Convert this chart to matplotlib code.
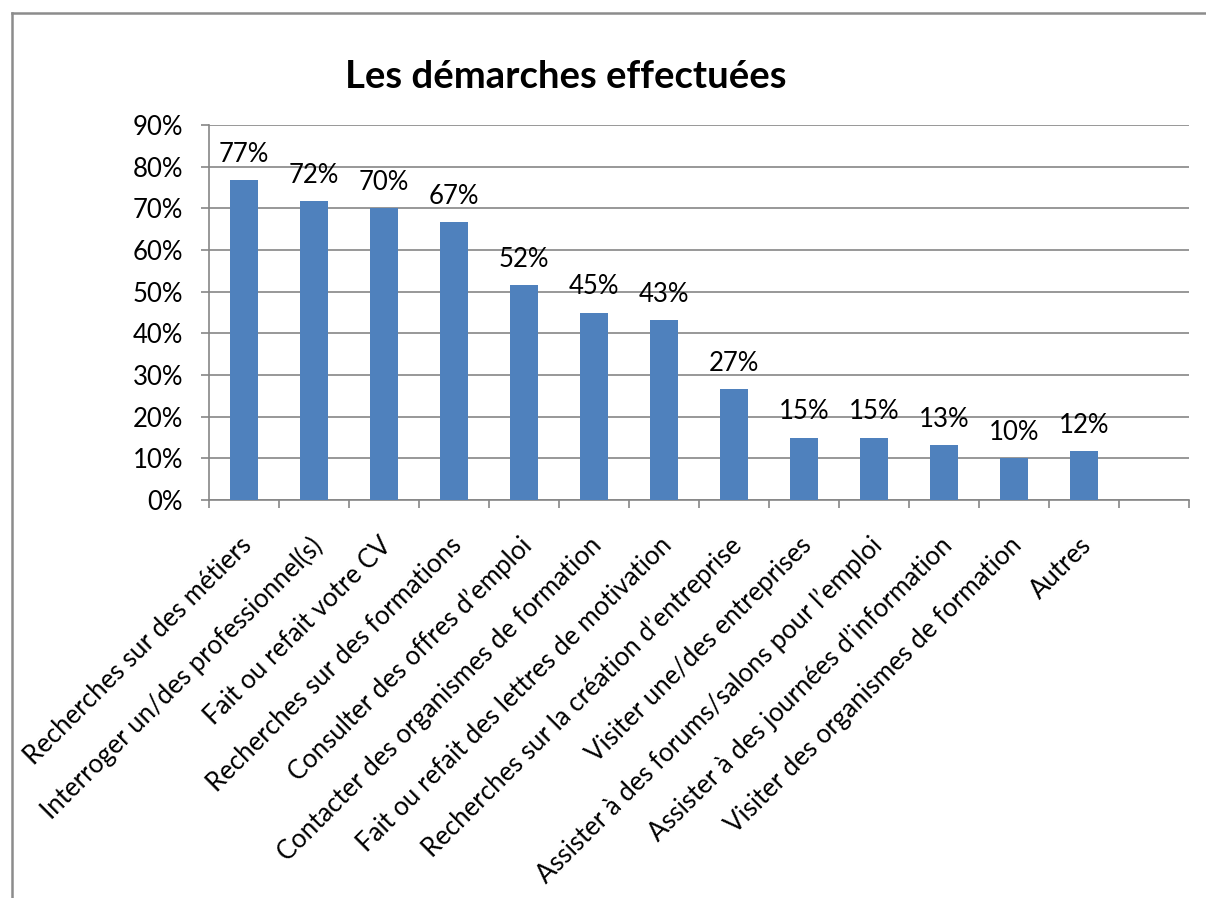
import numpy as np
import matplotlib
matplotlib.use("Agg")
import matplotlib.pyplot as plt
from matplotlib.lines import Line2D

plt.rcParams['font.family'] = ['Lato', 'DejaVu Sans']

categories = [
    "Recherches sur des métiers",
    "Interroger un/des professionnel(s)",
    "Fait ou refait votre CV",
    "Recherches sur des formations",
    "Consulter des offres d\u2019emploi",
    "Contacter des organismes de formation",
    "Fait ou refait des lettres de motivation",
    "Recherches sur la création d\u2019entreprise",
    "Visiter une/des entreprises",
    "Assister à des forums/salons pour l\u2019emploi",
    "Assister à des journées d\u2019information",
    "Visiter des organismes de formation",
    "Autres",
]
values = [76.7, 71.7, 70.0, 66.7, 51.7, 45.0, 43.3, 26.7, 15.0, 15.0, 13.3, 10.0, 11.7]
yticks = [0, 10, 20, 30, 40, 50, 60, 70, 80, 90]

fs = 18.5

fig = plt.figure(figsize=(12.06, 8.98), dpi=100)
ax = fig.add_axes([0.1733, 0.4432, 0.9859 - 0.1733, 0.8608 - 0.4432])

x = np.arange(len(categories))
ax.bar(x, values, width=0.39, color='#4F81BD', zorder=3)

# etiquettes de valeur au-dessus des barres
for xi, v in zip(x, values):
    ax.annotate(f"{v:.0f}%", (xi, v), xytext=(0, 13), textcoords='offset points',
                ha='center', va='baseline', fontsize=fs)

ax.set_xlim(-0.5, len(categories) + 0.5)
ax.set_ylim(0, 90)
ax.set_yticks(yticks)
ax.set_yticklabels([f"{t}%" for t in yticks], fontsize=fs)
ax.yaxis.grid(True, color='#868686', linewidth=1.2, zorder=0)

# ticks aux frontières des catégories
ax.set_xticks(np.arange(-0.5, len(categories) + 1, 1.0))
ax.set_xticklabels([])
ax.tick_params(axis='x', length=5.8, color='#868686', width=1.2, direction='out')
ax.tick_params(axis='y', length=5.8, color='#868686', width=1.2, direction='out', pad=13)

for s in ['top', 'right']:
    ax.spines[s].set_visible(False)
for s in ['left', 'bottom']:
    ax.spines[s].set_color('#868686')
    ax.spines[s].set_linewidth(1.2)

# libellés des catégories en diagonale
for xi, lab in zip(x, categories):
    ax.annotate(lab, (xi, 0), xytext=(3, -30), textcoords='offset points',
                rotation=45, rotation_mode='anchor', ha='right', va='center',
                fontsize=fs)

fig.text(566 / 1206, 1 - 77 / 898, "Les démarches effectuées",
         ha='center', va='center', fontsize=27.5, fontweight='bold')

# cadre du graphique (bords gauche et haut visibles)
fig.add_artist(Line2D([12 / 1206, 1.0], [1 - 13 / 898, 1 - 13 / 898],
                      transform=fig.transFigure, color='#8c8c8c', linewidth=1.8))
fig.add_artist(Line2D([12 / 1206, 12 / 1206], [0, 1 - 13 / 898],
                      transform=fig.transFigure, color='#8c8c8c', linewidth=1.8))

fig.savefig("out.png", dpi=100)
